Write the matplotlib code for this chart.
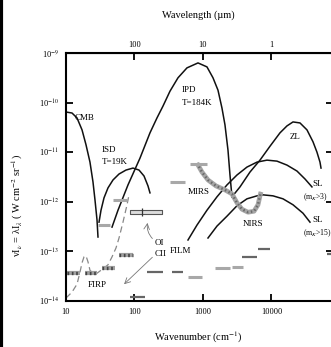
import numpy as np
import matplotlib
matplotlib.use('Agg')
import matplotlib.pyplot as plt
from matplotlib.lines import Line2D

plt.rcParams['font.family'] = ['Liberation Serif', 'DejaVu Serif']
plt.rcParams['mathtext.fontset'] = 'stix'

# log10(wavenumber cm^-1), log10(nu I_nu W cm^-2 sr^-1)
cmb_lk = [1.000, 1.088, 1.161, 1.234, 1.292, 1.350, 1.394, 1.423, 1.453, 1.467]
cmb_li = [-10.19, -10.21, -10.31, -10.55, -10.85, -11.20, -11.60, -11.96, -12.37, -12.71]

isd_lk = [1.482, 1.511, 1.555, 1.613, 1.686, 1.774, 1.876, 1.978, 2.066, 2.139, 2.197, 2.226]
isd_li = [-12.41, -12.17, -11.92, -11.72, -11.56, -11.44, -11.36, -11.32, -11.36, -11.48, -11.68, -11.82]

ipd_lk = [1.672, 1.759, 1.905, 2.080, 2.226, 2.328, 2.416, 2.518, 2.635, 2.766, 2.927,
          3.058, 3.146, 3.219, 3.277, 3.321, 3.365, 3.394, 3.423]
ipd_li = [-12.51, -12.17, -11.66, -11.12, -10.61, -10.31, -10.07, -9.77, -9.50, -9.30, -9.20,
          -9.28, -9.50, -9.75, -10.11, -10.45, -10.96, -11.46, -11.90]

zl_lk = [3.423, 3.540, 3.686, 3.832, 3.978, 4.124, 4.226, 4.314, 4.416, 4.518, 4.606, 4.664, 4.708, 4.723]
zl_li = [-11.90, -11.70, -11.40, -11.16, -10.88, -10.61, -10.47, -10.39, -10.41, -10.55, -10.79, -11.00, -11.20, -11.32]

sl1_lk = [2.781, 2.912, 3.058, 3.204, 3.350, 3.496, 3.642, 3.788, 3.934, 4.080, 4.226, 4.372, 4.489, 4.591]
sl1_li = [-12.77, -12.47, -12.17, -11.90, -11.66, -11.46, -11.30, -11.20, -11.16, -11.18, -11.26, -11.38, -11.54, -11.70]

sl2_lk = [3.073, 3.204, 3.350, 3.496, 3.642, 3.788, 3.876, 4.022, 4.168, 4.314, 4.460, 4.562]
sl2_li = [-12.73, -12.49, -12.29, -12.08, -11.94, -11.88, -11.86, -11.88, -11.94, -12.06, -12.23, -12.41]

hook_lk = [2.912, 2.985, 3.073, 3.190, 3.321, 3.423, 3.496, 3.569, 3.657, 3.745, 3.803, 3.832, 3.847]
hook_li = [-11.22, -11.40, -11.56, -11.68, -11.76, -11.84, -12.02, -12.15, -12.21, -12.19, -12.06, -11.88, -11.80]

firp_lk = [1.000, 1.088, 1.161, 1.204, 1.234, 1.263, 1.292, 1.321, 1.350, 1.394, 1.453,
           1.540, 1.613, 1.672, 1.730, 1.774, 1.832, 1.891, 1.920]
firp_li = [-13.94, -13.82, -13.66, -13.42, -13.23, -13.11, -13.09, -13.21, -13.38, -13.44, -13.44,
           -13.35, -13.27, -13.11, -12.93, -12.73, -12.41, -12.06, -11.86]

# hatched FIRP bars: left, right, level
hatch_lo = [1.015, 1.277, 1.526, 1.774]
hatch_hi = [1.204, 1.453, 1.715, 1.978]
hatch_lv = [-13.44, -13.44, -13.33, -13.07]

light_lo = [1.467, 1.686, 2.518, 2.810, 2.781, 3.175, 3.423]
light_hi = [1.642, 1.891, 2.737, 3.058, 2.985, 3.394, 3.584]
light_lv = [-12.47, -11.96, -11.60, -11.24, -13.52, -13.33, -13.31]

dark_lo = [2.182, 2.547, 3.569, 3.803, 1.934, 4.810]
dark_hi = [2.416, 2.708, 3.788, 3.978, 2.153, 4.870]
dark_lv = [-13.42, -13.42, -13.11, -12.95, -13.92, -13.05]

box_lk = [1.934, 2.401]
box_li = [-12.25, -12.17]
box_mark = 2.109

P = lambda a: 10 ** np.array(a)

fig = plt.figure(figsize=(3.31, 3.47), dpi=100)
ax = fig.add_axes([66/331, 1-301/347, 267/331, 248/347])

lc = '#111111'
ax.plot(P(cmb_lk), P(cmb_li), color=lc, lw=1.1)
ax.plot(P(isd_lk), P(isd_li), color=lc, lw=1.1)
ax.plot(P(ipd_lk), P(ipd_li), color=lc, lw=1.1)
ax.plot(P(zl_lk), P(zl_li), color=lc, lw=1.1)
ax.plot(P(sl1_lk), P(sl1_li), color=lc, lw=1.1)
ax.plot(P(sl2_lk), P(sl2_li), color=lc, lw=1.1)
ax.plot(P(firp_lk), P(firp_li), color='#888888', lw=0.9, dashes=(5, 3))

# MIRS / NIRS beaded band
ax.plot(P(hook_lk), P(hook_li), color='#a5a5a5', lw=3.4, solid_capstyle='butt')
ax.plot(P(hook_lk), P(hook_li), color='#6a6a6a', lw=1.8, dashes=(0.6, 1.0))

ax.hlines(P(hatch_lv), P(hatch_lo), P(hatch_hi), color='#a0a0a0', lw=3)
ax.hlines(P(hatch_lv), P(hatch_lo), P(hatch_hi), color='#444444', lw=2.4,
          linestyles=[(0, (0.5, 0.8))])
ax.hlines(P(light_lv), P(light_lo), P(light_hi), color='#a8a8a8', lw=2.2)
ax.hlines(P(dark_lv), P(dark_lo), P(dark_hi), color='#666666', lw=1.6)

ax.fill_between(P(box_lk), P(box_li[0]), P(box_li[1]), facecolor='#dddddd',
                edgecolor='#555555', lw=0.8)
ax.vlines(P(box_mark), P(-12.29), P(-12.13), color='#333333', lw=0.9)

ax.annotate('', xy=(P(2.197), P(-12.37)), xytext=(P(2.29), P(-12.78)),
            arrowprops=dict(arrowstyle='->', color='#777777', lw=0.6,
                            connectionstyle='arc3,rad=-0.3'))
ax.annotate('', xy=(P(1.818), P(-13.70)), xytext=(P(2.29), P(-13.08)),
            arrowprops=dict(arrowstyle='->', color='#777777', lw=0.6))

fs = 6.5
ax.text(P(1.131), P(-10.31), 'CMB', fontsize=fs, va='center')
ax.text(P(1.526), P(-10.96), 'ISD', fontsize=fs, va='center')
ax.text(P(1.526), P(-11.20), 'T=19K', fontsize=fs, va='center')
ax.text(P(2.693), P(-9.75), 'IPD', fontsize=fs, va='center')
ax.text(P(2.693), P(-10.01), 'T=184K', fontsize=fs, va='center')
ax.text(P(4.270), P(-10.69), 'ZL', fontsize=fs, va='center')
ax.text(P(4.591), P(-11.64), 'SL', fontsize=fs, va='center')
ax.text(P(4.460), P(-11.90), '(m$_K$>3)', fontsize=5.5, va='center', clip_on=False)
ax.text(P(4.591), P(-12.37), 'SL', fontsize=fs, va='center')
ax.text(P(4.460), P(-12.63), '(m$_K$>15)', fontsize=5.5, va='center', clip_on=False)
ax.text(P(2.781), P(-11.80), 'MIRS', fontsize=fs, va='center')
ax.text(P(3.584), P(-12.45), 'NIRS', fontsize=fs, va='center')
ax.text(P(2.299), P(-12.83), 'OI', fontsize=fs, va='center')
ax.text(P(2.299), P(-13.05), 'CII', fontsize=fs, va='center')
ax.text(P(2.518), P(-12.99), 'FILM', fontsize=fs, va='center')
ax.text(P(1.321), P(-13.68), 'FIRP', fontsize=fs, va='center')

ax.set_xscale('log')
ax.set_yscale('log')
ax.set_xlim(10, 10 ** 4.898)
ax.set_ylim(1e-14, 1e-9)
ax.set_xticks([10, 100, 1000, 10000])
ax.set_xticklabels(['10', '100', '1000', '10000'])
ax.set_yticks([1e-14, 1e-13, 1e-12, 1e-11, 1e-10, 1e-9])
ax.set_yticklabels(['10$^{-14}$', '10$^{-13}$', '10$^{-12}$', '10$^{-11}$',
                    '10$^{-10}$', '10$^{-9}$'])
ax.minorticks_off()
ax.tick_params(direction='in', length=5, width=1.3, labelsize=6, pad=5,
               right=True, top=False)
for s in ax.spines.values():
    s.set_linewidth(1.5)

sec = ax.secondary_xaxis('top', functions=(lambda x: 1e4 / x, lambda x: 1e4 / x))
sec.set_xticks([100, 10, 1])
sec.set_xticklabels(['100', '10', '1'])
sec.minorticks_off()
sec.tick_params(direction='in', length=5, width=1.3, labelsize=6, pad=3)

fig.text(198/331, 1-15/347, 'Wavelength (µm)', fontsize=7.5, ha='center', va='center')
fig.text(198/331, 1-337/347, 'Wavenumber (cm$^{-1}$)', fontsize=7.5, ha='center', va='center')
fig.text(17/331, 1-205/347, 'νI$_ν$ = λI$_λ$ ( W cm$^{-2}$ sr$^{-1}$)', fontsize=7.5,
         rotation=90, ha='center', va='center')

fig.add_artist(Line2D([0.004, 0.004], [0, 1], color='black', lw=3, transform=fig.transFigure))

fig.savefig('out.png', dpi=100)
